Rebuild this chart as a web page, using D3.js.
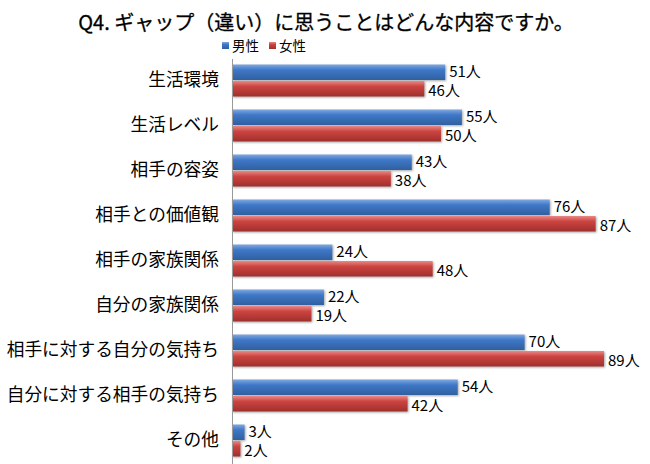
<!DOCTYPE html>
<html lang="ja">
<head>
<meta charset="UTF-8">
<title>Q4 chart</title>
<script src="https://d3js.org/d3.v7.min.js"></script>
<style>
	body{ margin:0; background:#fff; }
	text{ font-family:"Noto Sans CJK JP", sans-serif; fill:#000; }
	.title{ font-size:20px; stroke:#000; stroke-width:0.3px; }
	.cat{ font-size:17.7px; }
	.val{ font-size:15px; }
	.legend text{ font-size:13.5px; }
	path.domain{ stroke:#999; shape-rendering:crispEdges; }
</style>
</head>
<body>
<div id="main"></div>
<script>
	var categories = ["生活環境","生活レベル","相手の容姿","相手との価値観","相手の家族関係","自分の家族関係","相手に対する自分の気持ち","自分に対する相手の気持ち","その他"];
	var male   = [51,55,43,76,24,22,70,54,3];
	var female = [46,50,38,87,48,19,89,42,2];
	var seriesNames = ["男性","女性"];

	var width = 650, height = 464,
		margin = {left:232, top:58, right:0, bottom:1};

	var svg = d3.select("#main").append("svg")
		.attr("width", width)
		.attr("height", height);

	var defs = svg.append("defs");
	function grad(id, light, mid, dark){
		var g = defs.append("linearGradient").attr("id", id)
			.attr("x1",0).attr("y1",0).attr("x2",0).attr("y2",1);
		g.append("stop").attr("offset","0%").attr("stop-color", light);
		g.append("stop").attr("offset","35%").attr("stop-color", mid);
		g.append("stop").attr("offset","100%").attr("stop-color", dark);
	}
	grad("gBlue", "#7fa8e0", "#3f78c8", "#2f5f9f");
	grad("gRed", "#e88886", "#cc4440", "#9f302d");

	var x = d3.scaleLinear().domain([0, 89]).range([margin.left, 604]);
	var y = d3.scaleBand().domain(categories).range([margin.top, 463]).paddingInner(0.29).paddingOuter(0.145);
	var sub = d3.scaleBand().domain(seriesNames).range([0, y.bandwidth()]).paddingInner(0.06);

	svg.append("text").attr("class","title")
		.attr("x", 326).attr("y", 30).attr("text-anchor","middle")
		.text("Q4. ギャップ（違い）に思うことはどんな内容ですか。");

	// legend
	var lg = svg.append("g").attr("class","legend");
	var legX = [222, 269];
	seriesNames.forEach(function(s, i){
		lg.append("rect").attr("x", legX[i]).attr("y", 42).attr("width", 7).attr("height", 7)
			.attr("fill", i == 0 ? "url(#gBlue)" : "url(#gRed)");
		lg.append("text").attr("x", legX[i] + 10).attr("y", 51).text(s);
	});

	var rows = categories.map(function(c, i){ return {cat:c, vals:[male[i], female[i]]}; });

	var groups = svg.selectAll("g.row").data(rows).enter().append("g")
		.attr("class","row")
		.attr("transform", function(d){ return "translate(0," + y(d.cat) + ")"; });

	groups.selectAll("rect").data(function(d){ return d.vals; }).enter().append("rect")
		.attr("x", x(0))
		.attr("y", function(d, i){ return sub(seriesNames[i]); })
		.attr("width", function(d){ return x(d) - x(0); })
		.attr("height", sub.bandwidth())
		.attr("fill", function(d, i){ return i == 0 ? "url(#gBlue)" : "url(#gRed)"; })
		.style("filter", "drop-shadow(1px 1px 1px rgba(0,0,0,0.35))");

	// labels nudged apart a little so the pair doesn't collide
	groups.selectAll("text.val").data(function(d){ return d.vals; }).enter().append("text")
		.attr("class","val")
		.attr("x", function(d){ return x(d) + 4; })
		.attr("y", function(d, i){ return sub(seriesNames[i]) + sub.bandwidth()/2 + (i == 0 ? 5 : 7); })
		.text(function(d){ return d + "人"; });

	var yAxis = svg.append("g")
		.attr("transform", "translate(" + margin.left + ",0)")
		.call(d3.axisLeft(y).tickSize(0).tickPadding(13));
	yAxis.selectAll("text").attr("class","cat").attr("font-size", null).attr("font-family", null);
</script>
</body>
</html>
